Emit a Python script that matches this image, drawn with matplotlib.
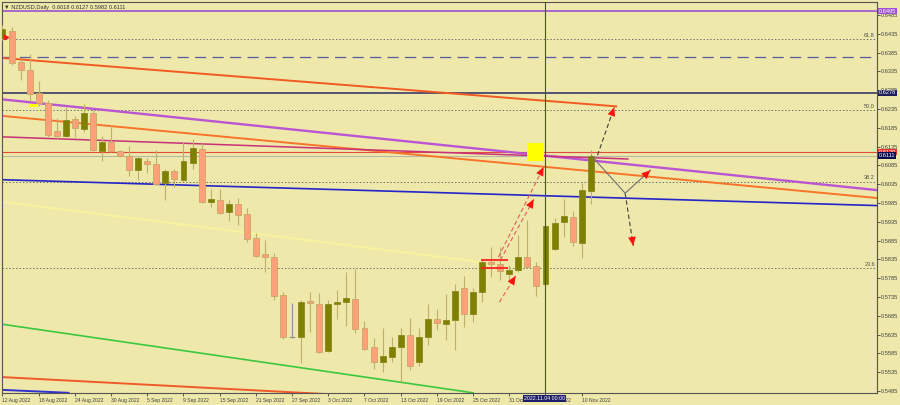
import numpy as np
import matplotlib.pyplot as plt
import matplotlib.transforms as mtransforms
from matplotlib.patches import Rectangle

plt.rcParams['font.family'] = ['Liberation Sans', 'DejaVu Sans']

# NZDUSD daily bars, 12 Aug 2022 .. 11 Nov 2022
opens = [0.6424, 0.6442, 0.6361, 0.6339, 0.6278, 0.6250, 0.6176, 0.6164, 0.6208, 0.6181,
         0.6225, 0.6124, 0.6148, 0.6123, 0.6111, 0.6073, 0.6097, 0.6088, 0.6037, 0.6069,
         0.6046, 0.6090, 0.6129, 0.5988, 0.5993, 0.5960, 0.5982, 0.5955, 0.5891, 0.5848,
         0.5841, 0.5740, 0.5628, 0.5629, 0.5723, 0.5716, 0.5591, 0.5716, 0.5722, 0.5729,
         0.5652, 0.5603, 0.5561, 0.5576, 0.5603, 0.5634, 0.5563, 0.5629, 0.5676, 0.5663,
         0.5674, 0.5758, 0.5690, 0.5747, 0.5829, 0.5822, 0.5796, 0.5807, 0.5840, 0.5817,
         0.5769, 0.5862, 0.5935, 0.5949, 0.5878, 0.6018]
highs = [0.6458, 0.6454, 0.6367, 0.6381, 0.6309, 0.6259, 0.6210, 0.6240, 0.6216, 0.6247,
         0.6232, 0.6163, 0.6192, 0.6125, 0.6137, 0.6107, 0.6104, 0.6126, 0.6075, 0.6075,
         0.6148, 0.6154, 0.6145, 0.6021, 0.6021, 0.5993, 0.5997, 0.5971, 0.5906, 0.5887,
         0.5853, 0.5749, 0.5720, 0.5727, 0.5749, 0.5746, 0.5727, 0.5753, 0.5802, 0.5809,
         0.5671, 0.5625, 0.5652, 0.5629, 0.5652, 0.5678, 0.5652, 0.5716, 0.5702, 0.5742,
         0.5769, 0.5791, 0.5758, 0.5833, 0.5867, 0.5869, 0.5820, 0.5900, 0.5940, 0.5829,
         0.5926, 0.5944, 0.5995, 0.5964, 0.6037, 0.6127]
lows = [0.6419, 0.6352, 0.6312, 0.6257, 0.6243, 0.6161, 0.6154, 0.6161, 0.6160, 0.6175,
        0.6123, 0.6097, 0.6121, 0.6107, 0.6057, 0.6046, 0.6066, 0.6033, 0.5993, 0.6028,
        0.6043, 0.6075, 0.5984, 0.5973, 0.5956, 0.5938, 0.5926, 0.5882, 0.5841, 0.5802,
        0.5727, 0.5622, 0.5626, 0.5560, 0.5643, 0.5585, 0.5588, 0.5676, 0.5658, 0.5638,
        0.5594, 0.5543, 0.5535, 0.5562, 0.5510, 0.5541, 0.5550, 0.5607, 0.5647, 0.5620,
        0.5594, 0.5654, 0.5669, 0.5722, 0.5789, 0.5780, 0.5776, 0.5801, 0.5811, 0.5738,
        0.5767, 0.5860, 0.5895, 0.5870, 0.5838, 0.5982]
closes = [0.6448, 0.6358, 0.6339, 0.6275, 0.6250, 0.6166, 0.6164, 0.6206, 0.6184, 0.6224,
          0.6126, 0.6148, 0.6123, 0.6111, 0.6073, 0.6104, 0.6089, 0.6035, 0.6071, 0.6048,
          0.6097, 0.6130, 0.5988, 0.5995, 0.5959, 0.5982, 0.5952, 0.5888, 0.5845, 0.5841,
          0.5738, 0.5629, 0.5628, 0.5722, 0.5719, 0.5588, 0.5716, 0.5722, 0.5731, 0.5649,
          0.5597, 0.5561, 0.5578, 0.5603, 0.5634, 0.5550, 0.5629, 0.5676, 0.5665, 0.5674,
          0.5752, 0.5690, 0.5747, 0.5829, 0.5822, 0.5804, 0.5807, 0.5842, 0.5815, 0.5765,
          0.5925, 0.5932, 0.5950, 0.5880, 0.6019, 0.6111]

date_labels = ['12 Aug 2022', '18 Aug 2022', '24 Aug 2022', '30 Aug 2022', '5 Sep 2022',
               '9 Sep 2022', '15 Sep 2022', '21 Sep 2022', '27 Sep 2022', '3 Oct 2022',
               '7 Oct 2022', '13 Oct 2022', '19 Oct 2022', '25 Oct 2022', '31 Oct 2022',
               '4 Nov 2022', '10 Nov 2022']
date_step = 4
price_ticks = [round(0.5485 + 0.005 * k, 4) for k in range(21)]

# horizontal levels
fib_levels = [0.5811, 0.6042, 0.6232, 0.6420]
fib_names = ['23.6', '38.2', '50.0', '61.8']
level_purple = 0.6495
level_dashed = 0.6373
level_navy = 0.6278
level_red = 0.6120
level_bid = 0.6111

# trend lines as (bar, price) anchors
line_orange_up = [(-0.2, 0.6371), (67.8, 0.6242)]
line_orange_lo = [(-0.2, 0.6217), (96.7, 0.5998)]
line_orchid = [(-0.2, 0.6261), (96.7, 0.6019)]
line_magenta = [(-0.2, 0.6161), (69.1, 0.6102)]
line_blue = [(-0.2, 0.6047), (96.7, 0.5978)]
line_yellow = [(-0.2, 0.5988), (52.8, 0.5828)]
line_green = [(-0.2, 0.5663), (52.0, 0.5480)]
line_red_low = [(-0.2, 0.5522), (35.5, 0.5477)]
line_blue_low = [(-0.2, 0.5488), (7.3, 0.5480)]

# hand drawn arrows
red_arrows = [((54.8, 0.5841), (59.8, 0.6081)),
              ((55.0, 0.5833), (58.7, 0.5995)),
              ((54.9, 0.5721), (56.7, 0.5791))]
dark_arrows = [((65.75, 0.6112), (67.6, 0.6240)),
               ((68.8, 0.6011), (69.7, 0.5871))]
gray_path = [(65.1, 0.6110), (68.8, 0.6011), (71.6, 0.6072)]
red_box = (52.9, 55.9, 0.5813, 0.5833)
yellow_box = (58.0, 59.8, 0.6097, 0.6145)
yellow_mark = (2.9, 3.9, 0.6240, 0.6248)
cross_bar = 59.9

bg = '#EEE8AA'
fig = plt.figure(figsize=(9, 4.05), dpi=100, facecolor=bg)
ax = fig.add_axes([2 / 900, 12 / 405, 875 / 900, 391 / 405])
ax.set_facecolor(bg)
ax.set_xlim(-0.055, 96.63)
ax.set_ylim(0.54795, 0.65196)


def seg(pts, **kw):
    ax.plot([p[0] for p in pts], [p[1] for p in pts], **kw)


def head(p0, p1, color='#FF1010'):
    q = (p0[0] + (p1[0] - p0[0]) * 0.8, p0[1] + (p1[1] - p0[1]) * 0.8)
    ax.annotate('', xy=p1, xytext=q, zorder=8,
                arrowprops=dict(arrowstyle='-|>,head_length=0.8,head_width=0.35',
                                color=color, lw=0, mutation_scale=8,
                                shrinkA=0, shrinkB=0))


# levels
ax.axhline(level_purple, color='#A050D0', lw=1.2, zorder=2)
ax.axhline(level_dashed, color='#5A5AA0', lw=0.9, ls=(0, (9, 5)), zorder=2)
ax.axhline(level_navy, color='#2B2B60', lw=1.1, zorder=2)
ax.axhline(level_red, color='#E04A3A', lw=0.8, zorder=2)
ax.axhline(level_bid, color='#B8B8A8', lw=0.8, zorder=2)
for lv, nm in zip(fib_levels, fib_names):
    ax.axhline(lv, color='#707070', lw=0.7, ls=(0, (1.5, 2)), zorder=2)
    ax.text(96.4, lv + 0.0003, nm, fontsize=4, color='#505050', ha='right', va='bottom', zorder=2)

# trend lines
seg(line_orange_up, color='#F25A22', lw=1.4, zorder=2)
seg(line_orange_lo, color='#F7742A', lw=1.4, zorder=2)
seg(line_orchid, color='#BA55D3', lw=1.7, zorder=2)
seg(line_magenta, color='#C8307A', lw=1.1, zorder=2)
seg(line_blue, color='#2424C8', lw=1.2, zorder=2)
seg(line_yellow, color='#F8F29E', lw=1.5, zorder=2)
seg(line_green, color='#3CC83C', lw=1.2, zorder=2)
seg(line_red_low, color='#F05A28', lw=1.4, zorder=2)
seg(line_blue_low, color='#3030D0', lw=1.4, zorder=2)

# candles
wick = '#BDB06A'
for i in range(len(opens)):
    o, h, l, c = opens[i], highs[i], lows[i], closes[i]
    if c > o:
        fill, edge = '#808000', '#8A8A20'
    elif c < o:
        fill, edge = '#FFA07A', '#C8A860'
    else:
        fill, edge = '#909090', '#909090'
    ax.vlines(i, l, h, color=edge if c == o else wick, lw=0.8, zorder=3)
    if c == o:
        ax.hlines(o, i - 0.33, i + 0.33, color=edge, lw=0.8, zorder=4)
    else:
        ax.add_patch(Rectangle((i - 0.33, min(o, c)), 0.66, abs(c - o),
                               facecolor=fill, edgecolor=edge, lw=0.6, zorder=4))

# markers / boxes
ax.add_patch(Rectangle((yellow_box[0], yellow_box[2]), yellow_box[1] - yellow_box[0],
                       yellow_box[3] - yellow_box[2], facecolor='#FFFF00', lw=0, zorder=5))
ax.add_patch(Rectangle((yellow_mark[0], yellow_mark[2]), yellow_mark[1] - yellow_mark[0],
                       yellow_mark[3] - yellow_mark[2], facecolor='#FFFF00', lw=0, zorder=5))
ax.hlines([red_box[2], red_box[3]], red_box[0], red_box[1], color='#FF2020', lw=1.3, zorder=6)
ax.plot([0.4], [0.6427], marker='>', color='#FF1010', ms=3, zorder=6)

# arrows
for p0, p1 in red_arrows:
    seg([p0, p1], color='#E06060', lw=0.8, ls=(0, (4, 2.5)), zorder=7)
    head(p0, p1)
for p0, p1 in dark_arrows:
    seg([p0, p1], color='#404040', lw=0.8, ls=(0, (4, 2.5)), zorder=7)
    head(p0, p1)
seg(gray_path, color='#707070', lw=0.8, zorder=7)
head(gray_path[1], gray_path[2])

# crosshair
ax.axvline(cross_bar, color='#46466E', lw=0.8, zorder=6)

# axes styling
for s in ax.spines.values():
    s.set_color('#555555')
    s.set_linewidth(0.8)
ax.yaxis.tick_right()
ax.set_yticks(price_ticks)
ax.set_yticklabels(['%.4f' % p for p in price_ticks])
ax.set_xticks([k * date_step for k in range(len(date_labels))])
ax.set_xticklabels(date_labels)
ax.tick_params(axis='y', length=2, width=0.6, pad=1, labelsize=4.1, colors='#404040')
ax.tick_params(axis='x', length=2, width=0.6, pad=1.5, labelsize=3.6, colors='#404040')
for t in ax.get_xticklabels():
    t.set_ha('left')

# right side price boxes
tr = mtransforms.blended_transform_factory(ax.transAxes, ax.transData)
boxes = [(level_purple, '#A050D0'), (level_navy, '#1E1E5A'),
         (level_red, '#F03030'), (level_bid, '#0A0A50')]
for val, col in boxes:
    ax.text(1.002, val, '%.4f' % val, transform=tr, fontsize=4.1, color='white',
            ha='left', va='center', clip_on=False, zorder=10,
            bbox=dict(boxstyle='square,pad=0.12', facecolor=col, edgecolor='none'))

# crosshair date box
trx = mtransforms.blended_transform_factory(ax.transData, ax.transAxes)
ax.text(cross_bar, -0.013, '2022.11.04 00:00', transform=trx, fontsize=3.8, color='white',
        ha='center', va='center', clip_on=False, zorder=10,
        bbox=dict(boxstyle='square,pad=0.2', facecolor='#1E1E6A', edgecolor='none'))

fig.text(4 / 900, 1 - 7 / 405, '\u25bc NZDUSD,Daily  0.6018 0.6127 0.5982 0.6111',
         fontsize=4.1, color='#303030', va='center', ha='left')

fig.savefig('out.png', dpi=100, facecolor=bg)
